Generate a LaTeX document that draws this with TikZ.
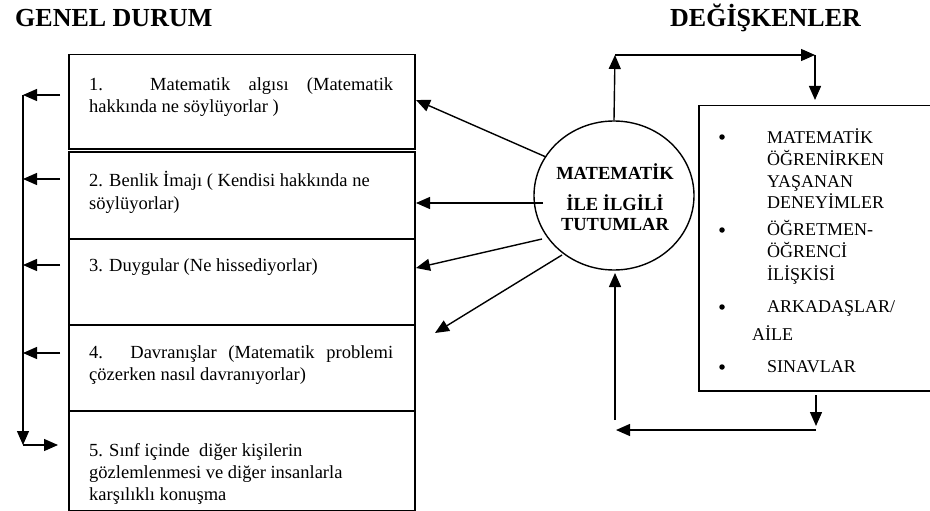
\documentclass[tikz,border=0pt]{standalone}
\usepackage{fontspec}
\setmainfont{Liberation Serif}
\usetikzlibrary{arrows.meta,shapes.geometric}
\begin{document}
\begin{tikzpicture}[x=1pt,y=-1pt,
  ln/.style={line width=1.4pt},
  arr/.style={ln,-{Triangle[length=14pt,width=12pt]}},
  boxst/.style={draw,line width=1.5pt,rectangle,inner sep=0,anchor=north west},
  txt/.style={anchor=base west,inner sep=0,font=\fontsize{18.5}{22}\selectfont},
  rtxt/.style={anchor=base west,inner sep=0,font=\fontsize{18}{22}\selectfont},
  bul/.style={circle,fill,inner sep=0,minimum size=5.5pt},
  ctxt/.style={anchor=base,inner sep=0,font=\fontsize{18.5}{22}\selectfont\bfseries},
  ttl/.style={anchor=base west,inner sep=0,font=\fontsize{26}{30}\selectfont\bfseries}]
\useasboundingbox (0,0) rectangle (930,511);

% titles
\node[ttl] (gd) at (15,27) {GENEL DURUM};
\node[ttl] (dg) at (670,27) {DEĞİŞKENLER};

% left boxes
\node[boxst, minimum width=346pt, minimum height=94pt] (b1) at (68,54) {};
\node[boxst, minimum width=346pt, minimum height=87pt] (b2) at (68,151) {};
\node[boxst, minimum width=346pt, minimum height=86pt] (b3) at (68,238) {};
\node[boxst, minimum width=346pt, minimum height=86pt] (b4) at (68,324) {};
\node[boxst, minimum width=346pt, minimum height=100pt] (b5) at (68,410) {};

\node[txt] (t1a) at (89,90.5) {\makebox[304pt][s]{1. Matematik algısı (Matematik}};
\node[txt] (t1b) at (89,112.5) {hakkında ne söylüyorlar )};
\node[txt] (t2a) at (89,186.5) {2. Benlik İmajı ( Kendisi hakkında ne};
\node[txt] (t2b) at (89,209) {söylüyorlar)};
\node[txt] (t3a) at (89,271.5) {3. Duygular (Ne hissediyorlar)};
\node[txt] (t4a) at (89,358) {\makebox[304pt][s]{4. Davranışlar (Matematik problemi}};
\node[txt] (t4b) at (89,380) {çözerken nasıl davranıyorlar)};
\node[txt] (t5a) at (89,456.5) {5. Sınf içinde\ \ diğer kişilerin};
\node[txt] (t5b) at (89,478) {gözlemlenmesi ve diğer insanlarla};
\node[txt] (t5c) at (89,500) {karşılıklı konuşma};

% circle
\node[draw, ellipse, line width=1.4pt, minimum width=160pt, minimum height=149pt, inner sep=0] (tut) at (614,195.5) {};
\node[ctxt] (tutA) at (615,179) {MATEMATİK};
\node[ctxt] (tutB) at (615,210) {İLE İLGİLİ};
\node[ctxt] (tutC) at (615,230) {TUTUMLAR};

% right box
\node[boxst, minimum width=245pt, minimum height=285pt] (deg) at (698,105) {};
\node[bul] (u1) at (722,137) {};
\node[rtxt] (d1a) at (767,143) {MATEMATİK};
\node[rtxt] (d1b) at (767,165) {ÖĞRENİRKEN};
\node[rtxt] (d1c) at (767,187) {YAŞANAN};
\node[rtxt] (d1d) at (767,208) {DENEYİMLER};
\node[bul] (u2) at (722,230) {};
\node[rtxt] (d2a) at (767,235) {ÖĞRETMEN-};
\node[rtxt] (d2b) at (767,257) {ÖĞRENCİ};
\node[rtxt] (d2c) at (767,280) {İLİŞKİSİ};
\node[bul] (u3) at (722,307) {};
\node[rtxt] (d3a) at (767,312) {ARKADAŞLAR/};
\node[rtxt] (d3b) at (752,340) {AİLE};
\node[bul] (u4) at (722,367) {};
\node[rtxt] (d4a) at (767,372) {SINAVLAR};

% coordinates
\coordinate (l1) at (60,95);   \coordinate (r1) at (23,95);
\coordinate (l2) at (60,179);  \coordinate (r2) at (23,179);
\coordinate (l3) at (60,265);  \coordinate (r3) at (23,265);
\coordinate (l4) at (60,353);  \coordinate (r4) at (23,353);
\coordinate (rb) at (23,445);  \coordinate (rbe) at (58,445);

\coordinate (c1s) at (546,157); \coordinate (c1e) at (416,100);
\coordinate (c2s) at (543,203); \coordinate (c2e) at (416,203);
\coordinate (c3s) at (542,239); \coordinate (c3e) at (416,268);
\coordinate (c4s) at (562,255); \coordinate (c4e) at (435,333);

\coordinate (tp1) at (615,55); \coordinate (tp2) at (815,55); \coordinate (tp3) at (815,100);
\coordinate (bt1) at (816,395); \coordinate (bt2) at (816,426);
\coordinate (bh1) at (816,430); \coordinate (bh2) at (616,430);
\coordinate (bv1) at (615,420); \coordinate (bv2) at (615,273);

% left rail
\draw[arr] (l1) -- (r1);
\draw[arr] (l2) -- (r2);
\draw[arr] (l3) -- (r3);
\draw[arr] (l4) -- (r4);
\draw[arr] (r1) -- (rb);
\draw[arr] (rb) -- (rbe);

% circle to boxes
\draw[arr] (c1s) -- (c1e);
\draw[arr] (c2s) -- (c2e);
\draw[arr] (c3s) -- (c3e);
\draw[arr] (c4s) -- (c4e);

% loop
\draw[arr] (tut.north) -- (tp1);
\draw[arr] (tp1) -- (tp2);
\draw[arr] (tp2) -- (tp3);
\draw[arr] (bt1) -- (bt2);
\draw[arr] (bh1) -- (bh2);
\draw[arr] (bv1) -- (bv2);
\end{tikzpicture}
\end{document}
